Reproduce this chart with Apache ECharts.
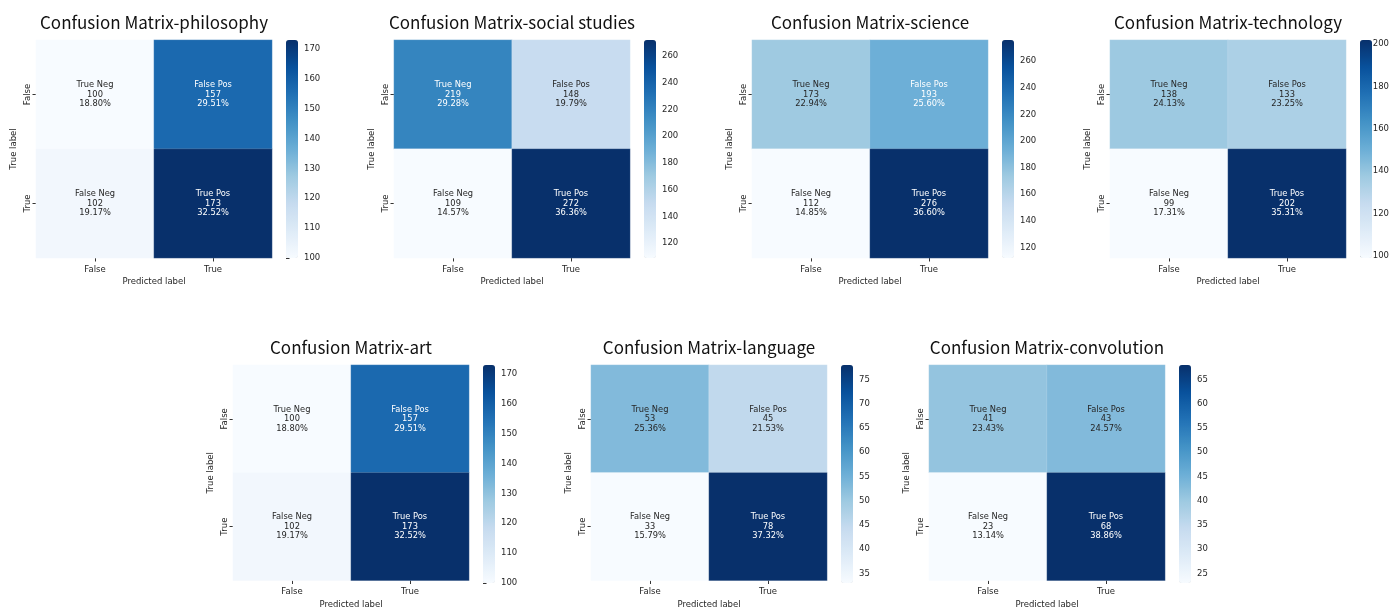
<!DOCTYPE html>
<html>
<head>
<meta charset="utf-8">
<script src="https://cdn.jsdelivr.net/npm/echarts@6/dist/echarts.min.js"></script>
<style>
html,body{margin:0;padding:0;background:#fff;}
#chart{width:1392px;height:610px;}
</style>
</head>
<body>
<div id="chart"></div>
<script>
// ---- data ----
const categories = ['False', 'True'];
const cellNames = ['True Neg', 'False Pos', 'False Neg', 'True Pos'];
const subjects = ['philosophy', 'social studies', 'science', 'technology', 'art', 'language', 'convolution'];
// counts: [TN, FP, FN, TP]
const philosophy = [100, 157, 102, 173];
const socialStudies = [219, 148, 109, 272];
const science = [173, 193, 112, 276];
const technology = [138, 133, 99, 202];
const art = [100, 157, 102, 173];
const language = [53, 45, 33, 78];
const convolution = [41, 43, 23, 68];
// colorbar tick labels
const ticksPhilosophy = [100, 110, 120, 130, 140, 150, 160, 170];
const ticksSocial = [120, 140, 160, 180, 200, 220, 240, 260];
const ticksScience = [120, 140, 160, 180, 200, 220, 240, 260];
const ticksTechnology = [100, 120, 140, 160, 180, 200];
const ticksArt = [100, 110, 120, 130, 140, 150, 160, 170];
const ticksLanguage = [35, 40, 45, 50, 55, 60, 65, 70, 75];
const ticksConvolution = [25, 30, 35, 40, 45, 50, 55, 60, 65];

const allCounts = [philosophy, socialStudies, science, technology, art, language, convolution];
const allTicks = [ticksPhilosophy, ticksSocial, ticksScience, ticksTechnology, ticksArt, ticksLanguage, ticksConvolution];

// ---- layout ----
const panelLeft = [36, 394, 752, 1110, 233, 591, 929];
const panelTop = [40, 40, 40, 40, 365, 365, 365];
const W = 236, H = 218, CB_OFF = 250, CB_W = 12;

const blues = ['#f7fbff', '#deebf7', '#c6dbef', '#9ecae1', '#6baed6', '#4292c6', '#2171b5', '#08519c', '#08306b'];
function hex2rgb(h) { return [parseInt(h.slice(1,3),16), parseInt(h.slice(3,5),16), parseInt(h.slice(5,7),16)]; }
function bluesAt(t) {
  t = Math.max(0, Math.min(1, t));
  const p = t * (blues.length - 1);
  const i = Math.min(Math.floor(p), blues.length - 2);
  const f = p - i;
  const a = hex2rgb(blues[i]), b = hex2rgb(blues[i + 1]);
  return a.map((v, k) => v + (b[k] - v) * f);
}
function textColorFor(v, mn, mx) {
  const rgb = bluesAt((v - mn) / (mx - mn)).map(c => {
    c = c / 255;
    return c <= 0.03928 ? c / 12.92 : Math.pow((c + 0.055) / 1.055, 2.4);
  });
  const lum = 0.2126 * rgb[0] + 0.7152 * rgb[1] + 0.0722 * rgb[2];
  return lum > 0.408 ? '#262626' : '#ffffff';
}

const FONT = "'DejaVu Sans', sans-serif";
const grids = [], xAxes = [], yAxes = [], series = [], visualMaps = [], titles = [];

allCounts.forEach((counts, i) => {
  const L = panelLeft[i], T = panelTop[i];
  const mn = Math.min(...counts), mx = Math.max(...counts);
  const total = counts.reduce((a, b) => a + b, 0);

  // heatmap grid
  grids.push({ left: L, top: T, width: W, height: H });
  const gi = grids.length - 1;
  xAxes.push({
    type: 'category', gridIndex: gi, data: categories, position: 'bottom',
    axisLine: { show: false },
    axisTick: { show: true, alignWithLabel: true, length: 3.5, lineStyle: { color: '#333', width: 1 } },
    axisLabel: { fontFamily: FONT, fontSize: 8.5, color: '#262626', margin: 7 },
    splitLine: { show: false },
    name: 'Predicted label', nameLocation: 'middle', nameGap: 19.5,
    nameTextStyle: { fontFamily: FONT, fontSize: 8.5, color: '#262626' }
  });
  yAxes.push({
    type: 'category', gridIndex: gi, data: categories, inverse: true,
    axisLine: { show: false },
    axisTick: { show: true, alignWithLabel: true, length: 3.5, lineStyle: { color: '#333', width: 1 } },
    axisLabel: { fontFamily: FONT, fontSize: 8.5, color: '#262626', rotate: 90, margin: 4 },
    splitLine: { show: false },
    name: 'True label', nameLocation: 'middle', nameGap: 18, nameRotate: 90,
    nameTextStyle: { fontFamily: FONT, fontSize: 8.5, color: '#262626' }
  });
  const data = counts.map((v, k) => {
    const x = k % 2, y = Math.floor(k / 2);
    const pct = (v / total * 100).toFixed(2) + '%';
    return {
      value: [x, y, v],
      label: {
        show: true,
        formatter: cellNames[k] + '\n' + v + '\n' + pct,
        color: textColorFor(v, mn, mx),
        fontFamily: FONT, fontSize: 8.3, lineHeight: 9.5
      }
    };
  });
  series.push({
    type: 'heatmap', xAxisIndex: gi, yAxisIndex: gi, data: data,
    itemStyle: { borderColor: 'rgba(255,255,255,0.25)', borderWidth: 0.6 },
    emphasis: { disabled: true }
  });
  const si = series.length - 1;
  visualMaps.push({
    type: 'continuous', seriesIndex: si, min: mn, max: mx,
    left: L + CB_OFF, top: T, itemWidth: CB_W, itemHeight: H,
    padding: 0, calculable: false, hoverLink: false, text: null, showLabel: false,
    inRange: { color: blues }
  });

  // colorbar axis grid
  grids.push({ left: L + CB_OFF, top: T, width: CB_W, height: H });
  const ci = grids.length - 1;
  xAxes.push({ type: 'value', gridIndex: ci, show: false, min: 0, max: 1 });
  yAxes.push({
    type: 'value', gridIndex: ci, min: mn, max: mx, position: 'right',
    axisLine: { show: false },
    splitLine: { show: false },
    axisTick: { show: true, length: 3.5, customValues: allTicks[i], lineStyle: { color: '#333', width: 1 } },
    axisLabel: { show: true, customValues: allTicks[i], fontFamily: FONT, fontSize: 8.5, color: '#262626', margin: 6, showMinLabel: true, showMaxLabel: true }
  });

  titles.push({
    text: 'Confusion Matrix-' + subjects[i],
    left: L + W / 2, top: T - 26, textAlign: 'center', padding: 0,
    textStyle: { fontFamily: 'Noto Sans CJK KR', fontSize: 17, fontWeight: 'normal', color: '#111' }
  });
});

const chart = echarts.init(document.getElementById('chart'), null, { renderer: 'canvas' });
chart.setOption({
  animation: false,
  backgroundColor: '#ffffff',
  title: titles,
  grid: grids,
  xAxis: xAxes,
  yAxis: yAxes,
  visualMap: visualMaps,
  series: series
});
</script>
</body>
</html>
